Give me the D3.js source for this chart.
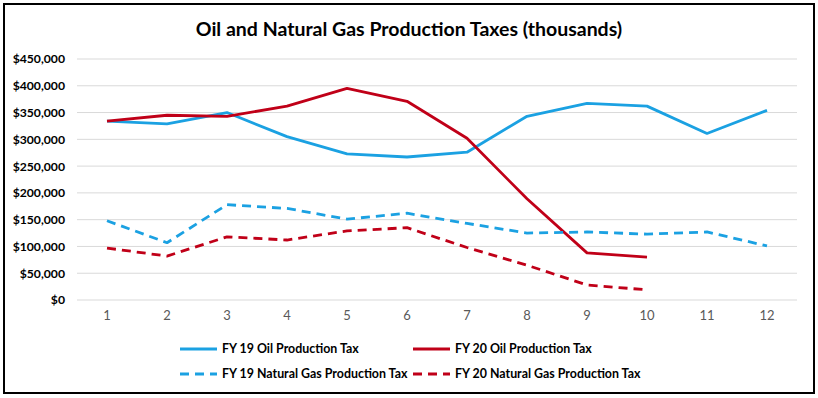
<!DOCTYPE html>
<html>
<head>
<meta charset="utf-8">
<script src="https://cdn.jsdelivr.net/npm/d3@7"></script>
<style>
  body { margin: 0; background: #fff; }
  svg { font-family: Lato, "Open Sans", sans-serif; }
</style>
</head>
<body>
<svg id="chart"></svg>
<script>
const width = 818, height = 398;

// months 1..12
const months = [1, 2, 3, 4, 5, 6, 7, 8, 9, 10, 11, 12];
const yTicks = [0, 50000, 100000, 150000, 200000, 250000, 300000, 350000, 400000, 450000];

const fy19Oil = [334000, 329000, 350000, 305000, 273000, 267000, 276000, 343000, 367000, 362000, 311000, 354000];
const fy20Oil = [334000, 345000, 343000, 362000, 395000, 371000, 302000, 189000, 88000, 80000];
const fy19Gas = [148000, 107000, 178000, 171000, 151000, 162000, 143000, 125000, 127000, 123000, 127000, 101000];
const fy20Gas = [97000, 82000, 118000, 112000, 129000, 135000, 98000, 65000, 28000, 19000];

const seriesNames = ["FY 19 Oil Production Tax", "FY 20 Oil Production Tax",
                     "FY 19 Natural Gas Production Tax", "FY 20 Natural Gas Production Tax"];

const blue = "#1ba1e2", red = "#c00018";

const series = [
  {name: seriesNames[0], values: fy19Oil, color: blue, dash: null},
  {name: seriesNames[1], values: fy20Oil, color: red, dash: null},
  {name: seriesNames[2], values: fy19Gas, color: blue, dash: "9,6"},
  {name: seriesNames[3], values: fy20Gas, color: red, dash: "9,6"}
];

const svg = d3.select("#chart")
    .attr("width", width)
    .attr("height", height);

// frame
svg.append("rect")
    .attr("x", 4).attr("y", 4)
    .attr("width", 810).attr("height", 389)
    .attr("fill", "#fff")
    .attr("stroke", "#000")
    .attr("stroke-width", 2);

svg.append("text")
    .attr("x", 409)
    .attr("y", 36)
    .attr("text-anchor", "middle")
    .attr("font-size", "19.5px")
    .attr("font-weight", "bold")
    .attr("fill", "#000")
    .text("Oil and Natural Gas Production Taxes (thousands)");

let x = d3.scaleBand()
    .domain(months)
    .range([77, 797]);

let y = d3.scaleLinear()
    .domain([0, 450000])
    .range([300, 59]);

// gridlines
svg.append("g")
    .selectAll("line")
    .data(yTicks)
    .join("line")
        .attr("x1", 77).attr("x2", 797)
        .attr("y1", d => y(d)).attr("y2", d => y(d))
        .attr("stroke", "#d9d9d9")
        .attr("stroke-width", 1);

// y axis labels
let yAxis = svg.append("g")
    .attr("transform", "translate(77,0)")
    .call(d3.axisLeft(y).tickValues(yTicks).tickSize(0).tickPadding(12)
            .tickFormat(d => "$" + d3.format(",")(d)));
yAxis.select(".domain").remove();
yAxis.selectAll("text")
    .attr("font-size", "12.2px")
    .attr("font-weight", "bold")
    .attr("fill", "#000")
    .attr("font-family", "Lato, sans-serif");

// x axis labels
let xAxis = svg.append("g")
    .attr("transform", "translate(0,300)")
    .call(d3.axisBottom(x).tickSize(0).tickPadding(11));
xAxis.select(".domain").remove();
xAxis.selectAll("text")
    .attr("font-size", "13px")
    .attr("fill", "#595959")
    .attr("font-family", "Lato, sans-serif");

let line = d3.line()
    .x((d, i) => x(months[i]) + x.bandwidth() / 2)
    .y(d => y(d));

svg.append("g")
    .selectAll("path")
    .data(series)
    .join("path")
        .attr("d", d => line(d.values))
        .attr("fill", "none")
        .attr("stroke", d => d.color)
        .attr("stroke-width", 2.8)
        .attr("stroke-dasharray", d => d.dash)
        .attr("stroke-linejoin", "round");

// legend
let legendPos = [[180, 349], [413, 349], [180, 374], [413, 374]];
let legend = svg.append("g")
    .selectAll("g")
    .data(series)
    .join("g")
        .attr("transform", (d, i) => `translate(${legendPos[i][0]},${legendPos[i][1]})`);

legend.append("line")
    .attr("x1", 0).attr("x2", 37)
    .attr("stroke", d => d.color)
    .attr("stroke-width", 2.8)
    .attr("stroke-dasharray", d => d.dash);

legend.append("text")
    .attr("x", 42)
    .attr("dy", "0.35em")
    .attr("font-size", "12.4px")
    .attr("font-weight", "bold")
    .attr("fill", "#000")
    .text(d => d.name);
</script>
</body>
</html>
